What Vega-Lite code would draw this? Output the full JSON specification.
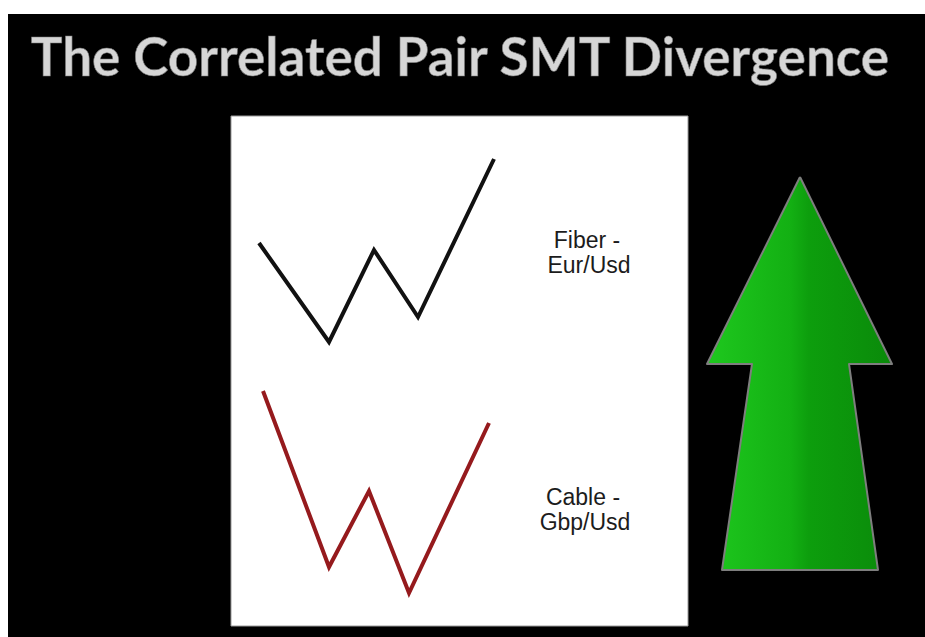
{
  "$schema": "https://vega.github.io/schema/vega-lite/v6.json",
  "width": 925,
  "height": 637,
  "padding": 0,
  "autosize": {"type": "fit", "contains": "padding"},
  "background": "white",
  "config": {"view": {"stroke": null}},
  "datasets": {
    "boxes": [
      {"name": "slide", "x": 8, "x2": 925, "y": 14, "y2": 637},
      {"name": "panel", "x": 231, "x2": 688, "y": 116, "y2": 626}
    ],
    "lines": [
      {"series": "Fiber", "i": 0, "x": 259, "y": 243},
      {"series": "Fiber", "i": 1, "x": 329, "y": 342},
      {"series": "Fiber", "i": 2, "x": 374, "y": 250},
      {"series": "Fiber", "i": 3, "x": 418, "y": 317},
      {"series": "Fiber", "i": 4, "x": 494, "y": 159},
      {"series": "Cable", "i": 0, "x": 263, "y": 391},
      {"series": "Cable", "i": 1, "x": 329, "y": 567},
      {"series": "Cable", "i": 2, "x": 369, "y": 491},
      {"series": "Cable", "i": 3, "x": 409, "y": 593},
      {"series": "Cable", "i": 4, "x": 489, "y": 423}
    ],
    "arrow": [
      {"i": 0, "x": 800, "y": 177},
      {"i": 1, "x": 892, "y": 364},
      {"i": 2, "x": 849, "y": 364},
      {"i": 3, "x": 878, "y": 570},
      {"i": 4, "x": 722, "y": 570},
      {"i": 5, "x": 752, "y": 364},
      {"i": 6, "x": 707, "y": 364},
      {"i": 7, "x": 800, "y": 177}
    ],
    "labels": [
      {"text": "Fiber -", "x": 587, "y": 248},
      {"text": "Eur/Usd", "x": 589, "y": 273},
      {"text": "Cable -", "x": 583, "y": 505},
      {"text": "Gbp/Usd", "x": 585, "y": 530}
    ],
    "title": [
      {"text": "The Correlated Pair SMT Divergence", "x": 460, "y": 76}
    ]
  },
  "encoding": {
    "x": {"field": "x", "type": "quantitative", "scale": {"domain": [0, 925], "nice": false, "zero": false}, "axis": null},
    "y": {"field": "y", "type": "quantitative", "scale": {"domain": [0, 637], "nice": false, "zero": false, "reverse": true}, "axis": null}
  },
  "layer": [
    {
      "data": {"name": "boxes"},
      "transform": [{"filter": "datum.name === 'slide'"}],
      "mark": {"type": "rect", "color": "black"},
      "encoding": {"x2": {"field": "x2"}, "y2": {"field": "y2"}}
    },
    {
      "data": {"name": "boxes"},
      "transform": [{"filter": "datum.name === 'panel'"}],
      "mark": {"type": "rect", "fill": "white", "stroke": "#9a9a9a", "strokeWidth": 1},
      "encoding": {"x2": {"field": "x2"}, "y2": {"field": "y2"}}
    },
    {
      "data": {"name": "lines"},
      "mark": {"type": "line", "strokeWidth": 4, "strokeJoin": "miter"},
      "encoding": {
        "detail": {"field": "series"},
        "order": {"field": "i", "type": "quantitative"},
        "color": {"field": "series", "type": "nominal", "scale": {"domain": ["Fiber", "Cable"], "range": ["#111111", "#951a1d"]}, "legend": null}
      }
    },
    {
      "data": {"name": "arrow"},
      "mark": {
        "type": "line",
        "strokeWidth": 2,
        "stroke": "#7e7e7e",
        "strokeJoin": "round",
        "fill": {
          "gradient": "linear", "x1": 0, "y1": 0, "x2": 1, "y2": 0,
          "stops": [
            {"offset": 0, "color": "#1ec81e"},
            {"offset": 0.45, "color": "#13b013"},
            {"offset": 0.55, "color": "#0d9e0d"},
            {"offset": 1, "color": "#0a8a0a"}
          ]
        }
      },
      "encoding": {"order": {"field": "i", "type": "quantitative"}}
    },
    {
      "data": {"name": "labels"},
      "mark": {"type": "text", "font": "Liberation Sans", "fontSize": 23, "color": "#1c1c1c", "align": "center", "baseline": "alphabetic"},
      "encoding": {"text": {"field": "text"}}
    },
    {
      "data": {"name": "title"},
      "mark": {"type": "text", "font": "Lato", "fontWeight": "bold", "fontSize": 53, "color": "#d6d6d6", "align": "center", "baseline": "alphabetic", "stroke": "#777777", "strokeWidth": 0.6},
      "encoding": {"text": {"field": "text"}}
    }
  ]
}
